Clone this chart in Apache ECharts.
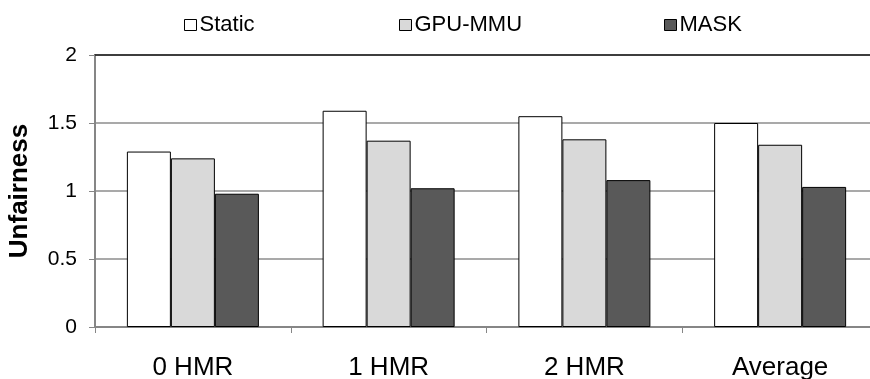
<!DOCTYPE html>
<html>
<head>
<meta charset="utf-8">
<script src="https://cdn.jsdelivr.net/npm/echarts@6/dist/echarts.min.js"></script>
<style>
html,body{margin:0;padding:0;background:#fff;}
#c{width:870px;height:379px;}
</style>
</head>
<body>
<div id="c"></div>
<script>
var categories = ['0 HMR', '1 HMR', '2 HMR', 'Average'];
var seriesNames = ['Static', 'GPU-MMU', 'MASK'];
var staticVals = [1.29, 1.59, 1.55, 1.50];
var gpuMmuVals = [1.24, 1.37, 1.38, 1.34];
var maskVals = [0.98, 1.02, 1.08, 1.03];
var yTicks = [0, 0.5, 1, 1.5, 2];
var colors = ['#ffffff', '#d9d9d9', '#595959'];

var FONT = "'Liberation Sans', Arial, sans-serif";
var chart = echarts.init(document.getElementById('c'), null, {renderer: 'canvas'});

function mkLegend(name, left) {
  return {
    show: true,
    data: [name],
    left: left,
    top: 14,
    itemWidth: 12,
    itemHeight: 11,
    padding: 0,
    selectedMode: false,
    icon: 'rect',
    textStyle: {fontFamily: FONT, fontSize: 22, color: '#000', padding: [0, 0, 0, -2]},
    itemStyle: {borderColor: '#000', borderWidth: 1}
  };
}

var seriesData = [staticVals, gpuMmuVals, maskVals];
var series = seriesNames.map(function (n, i) {
  return {
    name: n,
    type: 'bar',
    data: seriesData[i],
    barWidth: 44,
    barGap: '0%',
    itemStyle: {color: colors[i], borderColor: '#000', borderWidth: 1},
    emphasis: {disabled: true},
    animation: false
  };
});

chart.setOption({
  animation: false,
  textStyle: {fontFamily: FONT},
  legend: [mkLegend('Static', 184), mkLegend('GPU-MMU', 399), mkLegend('MASK', 664)],
  grid: {left: 95, right: -8, top: 55, bottom: 52, containLabel: false, outerBoundsMode: 'none'},
  xAxis: [{
    type: 'category',
    data: categories,
    boundaryGap: true,
    axisLine: {show: true, lineStyle: {color: '#868686', width: 2}},
    axisTick: {show: true, length: 6, alignWithLabel: false, lineStyle: {color: '#868686', width: 1}},
    axisLabel: {fontFamily: FONT, fontSize: 26, color: '#000', margin: 28}
  }, {
    type: 'category',
    data: categories,
    position: 'top',
    axisLine: {show: true, lineStyle: {color: '#1a1a1a', width: 1.5}},
    axisTick: {show: false},
    axisLabel: {show: false},
    splitLine: {show: false}
  }],
  yAxis: {
    type: 'value',
    min: yTicks[0],
    max: yTicks[yTicks.length - 1],
    interval: 0.5,
    name: 'Unfairness',
    nameLocation: 'middle',
    nameGap: 62,
    nameRotate: 90,
    nameTextStyle: {fontFamily: FONT, fontSize: 26, fontWeight: 'bold', color: '#000'},
    axisLine: {show: true, lineStyle: {color: '#868686', width: 2}},
    axisTick: {show: true, length: 6, lineStyle: {color: '#868686'}},
    axisLabel: {fontFamily: FONT, fontSize: 21, color: '#000', margin: 18,
      formatter: function (v) { return String(v); }},
    splitLine: {show: true, lineStyle: {color: '#8c8c8c', width: 1.5}}
  },
  series: series
});
</script>
</body>
</html>
